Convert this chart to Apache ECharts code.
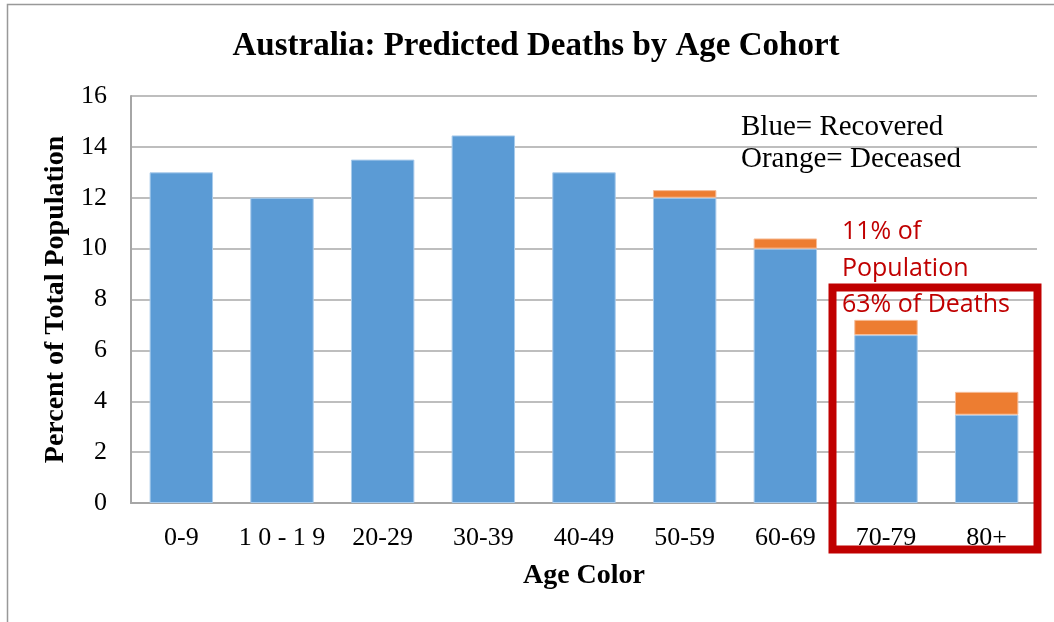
<!DOCTYPE html>
<html>
<head>
<meta charset="utf-8">
<script src="https://cdn.jsdelivr.net/npm/echarts@6/dist/echarts.min.js"></script>
<style>html,body{margin:0;padding:0;background:#fff;}#c{width:1054px;height:622px;}</style>
</head>
<body>
<div id="c"></div>
<script>
var categories = ['0-9', '1 0 - 1 9', '20-29', '30-39', '40-49', '50-59', '60-69', '70-79', '80+'];
var recovered = [13.0, 12.0, 13.5, 14.45, 13.0, 12.0, 10.0, 6.6, 3.47];
var deceased = [0, 0, 0, 0, 0, 0.3, 0.4, 0.6, 0.9];
var yTicks = [0, 2, 4, 6, 8, 10, 12, 14, 16];
var titleText = 'Australia: Predicted Deaths by Age Cohort';
var legendLines = ['Blue= Recovered', 'Orange= Deceased'];
var noteLines = ['11% of', 'Population', '63% of Deaths'];

var serif = '"Liberation Serif", "Times New Roman", serif';
var chart = echarts.init(document.getElementById('c'), null, {renderer: 'canvas'});
var option = {
  backgroundColor: '#fff',
  animation: false,
  grid: {left: 131, right: 17, top: 96, bottom: 119, containLabel: false},
  xAxis: {
    type: 'category',
    data: categories,
    name: 'Age Color',
    nameLocation: 'middle',
    nameGap: 59,
    nameTextStyle: {fontFamily: serif, fontWeight: 'bold', fontSize: 28, color: '#000'},
    axisLine: {lineStyle: {color: '#a6a6a6', width: 2}},
    axisTick: {show: false},
    axisLabel: {fontFamily: serif, fontSize: 26, color: '#000', margin: 22, interval: 0}
  },
  yAxis: {
    type: 'value',
    min: yTicks[0],
    max: yTicks[yTicks.length - 1],
    interval: yTicks[1] - yTicks[0],
    name: 'Percent of Total Population',
    nameLocation: 'middle',
    nameGap: 60,
    nameTextStyle: {fontFamily: serif, fontWeight: 'bold', fontSize: 28, color: '#000'},
    axisLine: {show: true, lineStyle: {color: '#a6a6a6', width: 2}},
    axisTick: {show: false},
    axisLabel: {fontFamily: serif, fontSize: 26, color: '#000', margin: 24},
    splitLine: {lineStyle: {color: '#a8a8a8', width: 1.5}}
  },
  series: [
    {
      name: 'Recovered', type: 'bar', stack: 'a', data: recovered, barWidth: '63%',
      itemStyle: {color: '#5B9BD5', borderColor: '#a9cbeb', borderWidth: 1}
    },
    {
      name: 'Deceased', type: 'bar', stack: 'a', barWidth: '63%',
      data: deceased.map(function (v) { return v === 0 ? null : v; }),
      itemStyle: {color: '#ED7D31', borderColor: '#f6bd98', borderWidth: 1}
    }
  ],
  graphic: [
    {type: 'polyline', shape: {points: [[7.5, 622], [7.5, 4.5], [1054, 4.5]]}, style: {stroke: '#999', lineWidth: 1.5, fill: null}, silent: true},
    {type: 'text', style: {text: titleText, font: 'bold 33px ' + serif, fill: '#000', x: 536, y: 46, align: 'center', verticalAlign: 'middle'}},
    {type: 'text', style: {text: legendLines[0], font: '29px ' + serif, fill: '#000', x: 741, y: 127, align: 'left', verticalAlign: 'middle'}},
    {type: 'text', style: {text: legendLines[1], font: '29px ' + serif, fill: '#000', x: 741, y: 159, align: 'left', verticalAlign: 'middle'}},
    {type: 'rect', shape: {x: 832.5, y: 287.5, width: 205, height: 262}, style: {stroke: '#C00000', lineWidth: 8, fill: null}, silent: true, z: 100},
    {type: 'text', z: 110, style: {text: noteLines[0], font: '25px "Open Sans", sans-serif', fill: '#C00000', x: 842, y: 232, align: 'left', verticalAlign: 'middle'}},
    {type: 'text', z: 110, style: {text: noteLines[1], font: '25px "Open Sans", sans-serif', fill: '#C00000', x: 842, y: 269, align: 'left', verticalAlign: 'middle'}},
    {type: 'text', z: 110, style: {text: noteLines[2], font: '25px "Open Sans", sans-serif', fill: '#C00000', x: 842, y: 305, align: 'left', verticalAlign: 'middle'}}
  ]
};
chart.setOption(option);
</script>
</body>
</html>
